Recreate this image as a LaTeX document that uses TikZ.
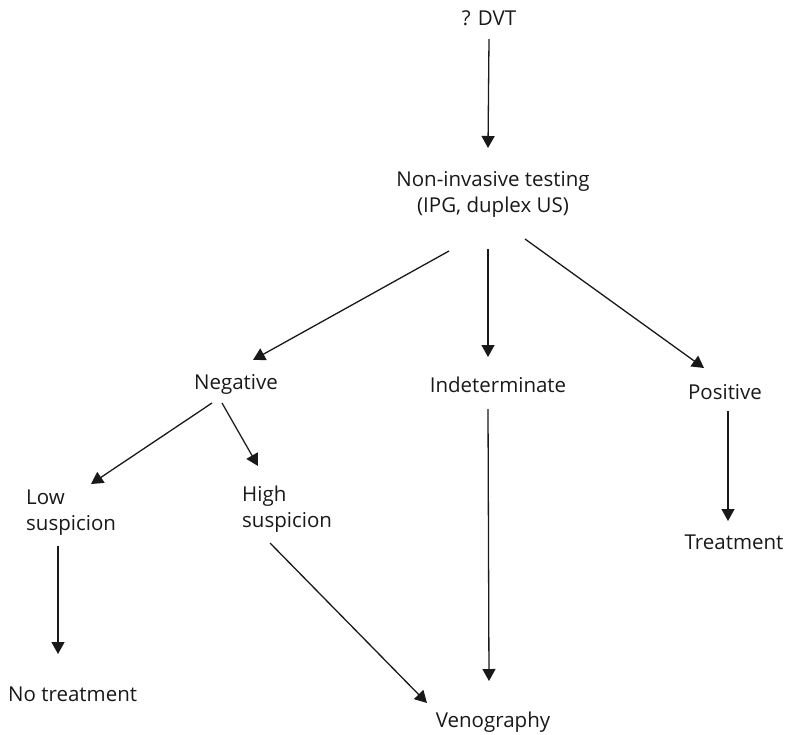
\documentclass[tikz,border=0pt]{standalone}
\usepackage{fontspec}
\setmainfont{Open Sans}
\usetikzlibrary{arrows.meta}

\begin{document}
\begin{tikzpicture}[x=1pt,y=-1pt,
		lbl/.style={inner sep=0pt,text=black!90,font=\fontsize{20.5}{26}\selectfont},
		arr/.style={line width=1.3pt,draw=black!90,-{Triangle[length=12pt,width=13pt]}}]
		\useasboundingbox (0,0) rectangle (791,734);

		\node [lbl,anchor=base] (dvt) at (489,25) {? DVT};
		\node [lbl,anchor=base,align=center] (nit) at (493,212) {Non-invasive testing\\(IPG, duplex US)};
		\node [lbl,anchor=base] (neg) at (236,389) {Negative};
		\node [lbl,anchor=base] (ind) at (498,392) {Indeterminate};
		\node [lbl,anchor=base] (pos) at (725,399) {Positive};
		\node [lbl,anchor=base west,align=left] (low) at (26,530) {Low\\suspicion};
		\node [lbl,anchor=base west,align=left] (high) at (242,527) {High\\suspicion};
		\node [lbl,anchor=base west] (notr) at (8,701) {No treatment};
		\node [lbl,anchor=base] (ven) at (493,727) {Venography};
		\node [lbl,anchor=base] (treat) at (734,549) {Treatment};

		\draw [arr] ([yshift=-14pt]dvt.base) -- ([xshift=-5pt,yshift=64pt]nit.base);
		\draw [arr] ([xshift=-44pt,yshift=-39pt]nit.base) -- ([xshift=17pt,yshift=29pt]neg.base);
		\draw [arr] ([xshift=-5pt,yshift=-37pt]nit.base) -- ([xshift=-10pt,yshift=35pt]ind.base);
		\draw [arr] ([xshift=32pt,yshift=-27pt]nit.base) -- ([xshift=-21pt,yshift=31pt]pos.base);
		\draw [arr] ([xshift=-24pt,yshift=-14pt]neg.base) -- ([xshift=65pt,yshift=46pt]low.base west);
		\draw [arr] ([xshift=-14pt,yshift=-14pt]neg.base) -- ([xshift=16pt,yshift=61pt]high.base west);
		\draw [arr] ([xshift=32pt,yshift=-16pt]low.base west) -- ([xshift=50pt,yshift=47pt]notr.base west);
		\draw [arr] ([xshift=28pt,yshift=-16pt]high.base west) -- ([xshift=-66pt,yshift=24pt]ven.base);
		\draw [arr] ([xshift=-10pt,yshift=-17pt]ind.base) -- ([xshift=-4pt,yshift=46pt]ven.base);
		\draw [arr] ([xshift=3pt,yshift=-12pt]pos.base) -- ([xshift=-6pt,yshift=28pt]treat.base);
	\end{tikzpicture}
\end{document}
